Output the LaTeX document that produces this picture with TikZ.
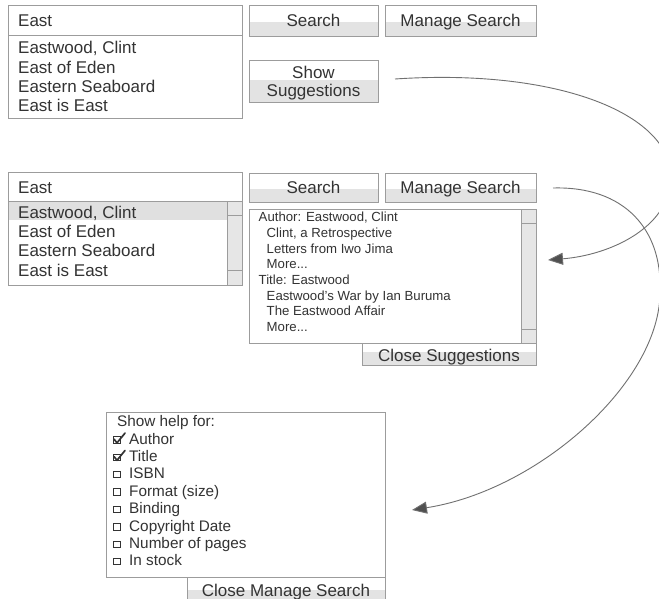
\documentclass[tikz,border=0pt]{standalone}
\usepackage{fontspec}
\setmainfont{Liberation Sans}
\usetikzlibrary{arrows.meta}
\definecolor{bdr}{HTML}{9C9C9C}
\definecolor{btngray}{HTML}{E3E3E3}
\definecolor{txt}{HTML}{333333}
\definecolor{arr}{HTML}{707070}
\definecolor{arrhead}{HTML}{505050}
\definecolor{hl}{HTML}{E0E0E0}
\definecolor{sbar}{HTML}{E6E6E6}
\newcommand\bigf{\fontsize{17}{19}\selectfont}
\newcommand\smallf{\fontsize{13.2}{15}\selectfont}
\newcommand\midf{\fontsize{15.3}{17}\selectfont}
% name, x1, y1, x2, y2, extra style
\newcommand\rbox[6]{\node[box,#6,minimum width={#4-#2},minimum height={#5-#3}] (#1) at ({(#2+#4)/2},{(#3+#5)/2}) {};}
% button: name, x1, y1, x2, y2 (lower part grey from 55%)
\newcommand\btnbox[5]{\fill[btngray] (#2,{#3+0.55*(#5-#3)}) rectangle (#4,#5);
  \rbox{#1}{#2}{#3}{#4}{#5}{}}
\begin{document}
\begin{tikzpicture}[x=1pt,y=-1pt,
  box/.style={draw=bdr, line width=0.9pt, inner sep=0pt, rectangle},
  big/.style={anchor=base west, inner sep=0pt, text=txt, font=\bigf},
  bigc/.style={anchor=base, inner sep=0pt, text=txt, font=\bigf},
  small/.style={anchor=base west, inner sep=0pt, text=txt, font=\smallf},
  mid/.style={anchor=base west, inner sep=0pt, text=txt, font=\midf},
  cbox/.style={draw=txt, line width=0.8pt, inner sep=0pt, minimum size=6.5pt, rectangle},
  tick/.style={draw=txt, line width=1.7pt, line cap=round, line join=round},
  link/.style={draw=arr, line width=0.9pt, -{Triangle[length=15pt,width=12pt,fill=arrhead]}},
  sline/.style={draw=bdr, line width=0.9pt}]
\useasboundingbox (0,0) rectangle (659,599);
\clip (0,0) rectangle (659,599);
\fill[white] (0,0) rectangle (659,599);

% ---------- top section ----------
\rbox{f1}{8}{5}{242}{35}{}
\rbox{l1}{8}{35}{242}{118}{}
\node[big] (t1) at (18,27) {East};
\node[big] (i11) at (18,54) {Eastwood, Clint};
\node[big] (i12) at (18,73.2) {East of Eden};
\node[big] (i13) at (18,92.4) {Eastern Seaboard};
\node[big] (i14) at (18,111.3) {East is East};

\btnbox{search1}{249}{5}{378}{36}
\node[bigc] (search1t) at (search1.center |- 0,27) {Search};
\btnbox{manage1}{385}{5}{536}{36}
\node[bigc] (manage1t) at (manage1.center |- 0,27) {Manage Search};
\fill[btngray] (249,80) rectangle (378,102);
\rbox{showsug}{249}{60}{378}{102}{}
\node[bigc] (showsugt1) at (showsug.center |- 0,79) {Show};
\node[bigc] (showsugt2) at (showsug.center |- 0,96.5) {Suggestions};

% ---------- middle section ----------
\fill[hl] (9,202) rectangle (227,220);
\fill[sbar] (227,201) rectangle (242,285);
\rbox{f2}{8}{172}{242}{201}{}
\rbox{l2}{8}{201}{242}{285}{}
\rbox{sb2}{227}{201}{242}{285}{}
\draw[sline] (227,215) -- (242,215) (227,270) -- (242,270);
\node[big] (t2) at (18,193.3) {East};
\node[big] (i21) at (18,218.4) {Eastwood, Clint};
\node[big] (i22) at (18,237.6) {East of Eden};
\node[big] (i23) at (18,256.8) {Eastern Seaboard};
\node[big] (i24) at (18,276) {East is East};

\btnbox{search2}{249}{173}{378}{202}
\node[bigc] (search2t) at (search2.center |- 0,193.3) {Search};
\btnbox{manage2}{385}{173}{536}{202}
\node[bigc] (manage2t) at (manage2.center |- 0,193.3) {Manage Search};

\fill[sbar] (521,209) rectangle (536,343);
\rbox{sug}{249}{209}{536}{343}{}
\rbox{sb3}{521}{209}{536}{343}{}
\draw[sline] (521,223) -- (536,223) (521,329) -- (536,329);
\node[small] (s1) at (258.5,221.7) {Author: Eastwood, Clint};
\node[small] (s2) at (266.5,237.4) {Clint, a Retrospective};
\node[small] (s3) at (266.5,253.1) {Letters from Iwo Jima};
\node[small] (s4) at (266.5,268.8) {More...};
\node[small] (s5) at (258.5,284.5) {Title: Eastwood};
\node[small] (s6) at (266.5,300.2) {Eastwood's War by Ian Buruma};
\node[small] (s7) at (266.5,315.9) {The Eastwood Affair};
\node[small] (s8) at (266.5,331.6) {More...};

\fill[btngray] (362,352) rectangle (536,365);
\rbox{closesug}{362}{343}{536}{365}{}
\node[bigc] (closesugt) at (closesug.center |- 0,361.5) {Close Suggestions};

% ---------- bottom section ----------
\rbox{mgbox}{106}{412}{385}{577}{}
\node[mid] (h0) at (117,426.7) {Show help for:};
\node[mid] (h1) at (129,444.1) {Author};
\node[mid] (h2) at (129,461.5) {Title};
\node[mid] (h3) at (129,478.9) {ISBN};
\node[mid] (h4) at (129,496.3) {Format (size)};
\node[mid] (h5) at (129,513.7) {Binding};
\node[mid] (h6) at (129,531.1) {Copyright Date};
\node[mid] (h7) at (129,548.5) {Number of pages};
\node[mid] (h8) at (129,565.9) {In stock};
\foreach \k in {1,...,8}{
  \node[cbox] (cb\k) at (117,{426.7+17.4*\k-4.3}) {};
}
\foreach \k in {1,2}{
  \draw[tick] ({114},{426.7+17.4*\k-5}) -- ({117},{426.7+17.4*\k-1.2}) -- ({125},{426.7+17.4*\k-11});
}

\fill[btngray] (187,590) rectangle (385,605);
\rbox{closemg}{187}{577}{385}{605}{}
\node[bigc] (closemgt) at (closemg.center |- 0,596) {Close Manage Search};

% ---------- connectors ----------
\coordinate (a1s) at (395,79);
\coordinate (a1e) at (548,260);
\coordinate (a2s) at (553,188);
\coordinate (a2e) at (412,510);
\draw[link] (a1s) .. controls (560,68) and (674,115) .. (671,180)
                  .. controls (668,228) and (610,255) .. (a1e);
\draw[link] (a2s) .. controls (625,186) and (662,230) .. (660,290)
                  .. controls (662,380) and (540,490) .. (a2e);
\end{tikzpicture}
\end{document}
